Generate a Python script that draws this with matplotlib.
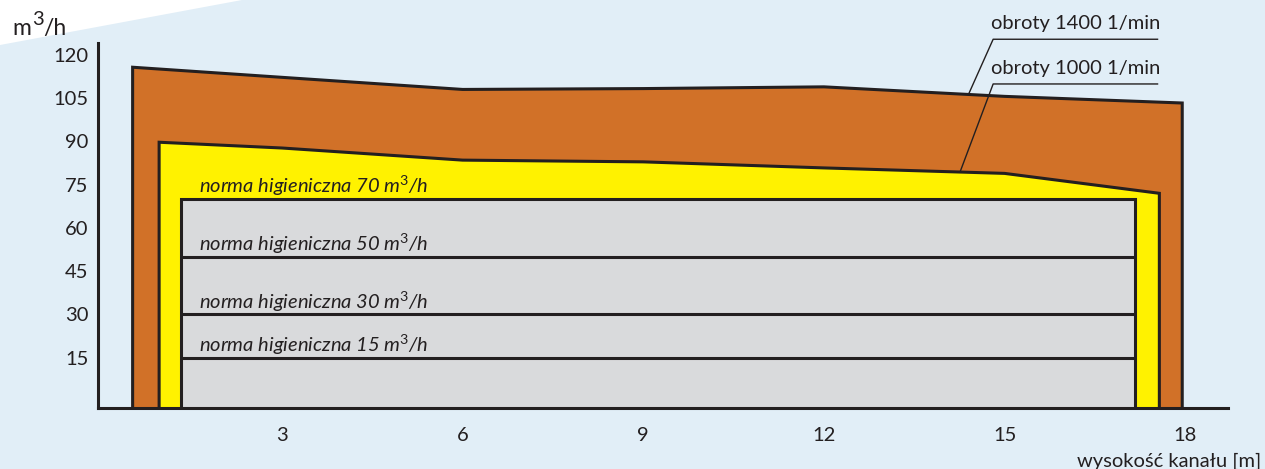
import matplotlib
matplotlib.use("Agg")
import matplotlib.pyplot as plt
from matplotlib.patches import Polygon
import numpy as np

plt.rcParams['font.family'] = ['Lato', 'DejaVu Sans']
plt.rcParams['mathtext.fontset'] = 'custom'
plt.rcParams['mathtext.rm'] = 'Lato'
plt.rcParams['mathtext.it'] = 'Lato:italic'

# ---- data ----
x_1400 = [0.52, 3, 6, 9, 12, 15, 17.95]
q_1400 = [115.7, 112.2, 108.0, 108.3, 108.9, 105.6, 103.3]
x_1000 = [0.96, 3, 6, 9, 12, 15, 17.57]
q_1000 = [89.7, 87.7, 83.5, 82.9, 80.8, 78.9, 72.0]
norm_x = [1.33, 17.17]
norm_levels = [70, 50, 30, 15]
norm_labels = ["norma higieniczna 70 m$^{\\mathit{3}}$/h",
               "norma higieniczna 50 m$^{\\mathit{3}}$/h",
               "norma higieniczna 30 m$^{\\mathit{3}}$/h",
               "norma higieniczna 15 m$^{\\mathit{3}}$/h"]
xticks = [3, 6, 9, 12, 15, 18]
yticks = [15, 30, 45, 60, 75, 90, 105, 120]
series_labels = ["obroty 1400 1/min", "obroty 1000 1/min"]

BG = '#e1eef7'
ORANGE = '#d17128'
YELLOW = '#fff200'
GREY = '#d9dadc'
DARK = '#231f20'
LW = 2.2

W, H = 1265, 469
fig = plt.figure(figsize=(W / 100, H / 100), dpi=100, facecolor=BG)
fig.patches.append(Polygon([(0, 1), (242 / W, 1), (0, 1 - 45 / H)], closed=True,
                           transform=fig.transFigure, facecolor='white',
                           edgecolor='none', zorder=0))

ax = fig.add_axes([98.3 / W, 1 - 407.7 / H, (1228 - 98.3) / W, (407.7 - 43) / H])
ax.set_facecolor('none')
ybot = -2.32
ax.set_xlim(-0.05, 18.71)
ax.set_ylim(ybot, 124.1)

def area(xs, ys, color, z):
    pts = [(xs[0], ybot)] + list(zip(xs, ys)) + [(xs[-1], ybot)]
    ax.add_patch(Polygon(pts, closed=False, facecolor=color, edgecolor=DARK,
                         lw=LW, joinstyle='miter', zorder=z))

area(x_1400, q_1400, ORANGE, 2)
area(x_1000, q_1000, YELLOW, 3)
area(norm_x, [norm_levels[0], norm_levels[0]], GREY, 4)
for lv in norm_levels[1:]:
    ax.plot(norm_x, [lv, lv], color=DARK, lw=LW, zorder=5, solid_capstyle='butt')
for lv, lab in zip(norm_levels, norm_labels):
    ax.text(1.62, lv + 2.1, lab, fontsize=14.5, style='italic', color=DARK,
            va='baseline', ha='left', zorder=6)

# leaders
def leader(label, y_line, x_end, xs, ys, y_text):
    y_end = np.interp(x_end, xs, ys)
    ax.plot([17.54, 14.81, x_end], [y_line, y_line, y_end], color=DARK, lw=1.0,
            clip_on=False, zorder=7)
    ax.text(14.78, y_text, label, fontsize=14.5, color=DARK, va='center',
            ha='left', clip_on=False)

leader(series_labels[0], 125.4, 14.40, x_1400, q_1400, 131.0)
leader(series_labels[1], 109.9, 14.26, x_1000, q_1000, 115.4)

for s in ['top', 'right']:
    ax.spines[s].set_visible(False)
for s in ['left', 'bottom']:
    ax.spines[s].set_linewidth(LW)
    ax.spines[s].set_color(DARK)
    ax.spines[s].set_zorder(8)
ax.set_xticks(xticks)
ax.set_yticks(yticks)
ax.tick_params(axis='x', length=0, pad=14, labelsize=14.5, labelcolor=DARK)
ax.tick_params(axis='y', length=0, pad=7, labelsize=14.5, labelcolor=DARK)

# y unit label: m³/h with a large superscript
fig.text(12 / W, 1 - 35 / H, 'm', fontsize=16.5, color=DARK, va='baseline', ha='left')
fig.text(32.5 / W, 1 - 25 / H, '3', fontsize=14.5, color=DARK, va='baseline', ha='left')
fig.text(43.5 / W, 1 - 35 / H, '/h', fontsize=16.5, color=DARK, va='baseline', ha='left')
fig.text(1261 / W, 1 - 461 / H, 'wysokość kanału [m]', fontsize=14.5, color=DARK,
         va='center', ha='right')

fig.savefig('out.png', dpi=100, facecolor=BG)
